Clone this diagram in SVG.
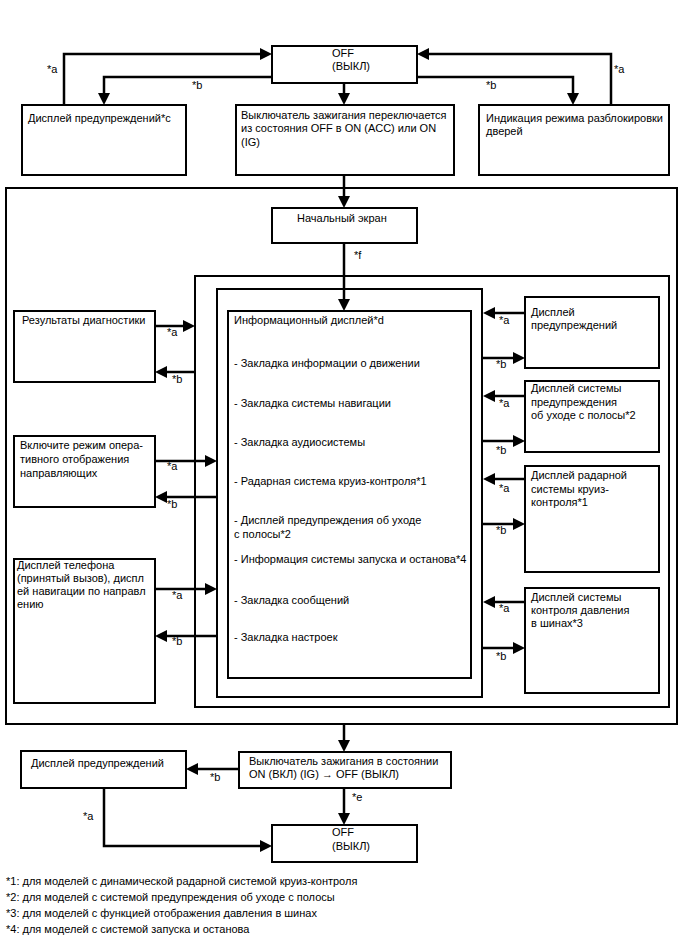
<svg xmlns="http://www.w3.org/2000/svg" width="688" height="949" viewBox="0 0 688 949">
<defs>
<style>
text{font-family:"Liberation Sans",Arial,sans-serif;font-size:11px;fill:#000}
.fn{font-size:11px}
.box{fill:#fff;stroke:#000;stroke-width:2}
.frame{fill:none;stroke:#000;stroke-width:2}
.c{fill:none;stroke:#000;stroke-width:2.5}
.ar{marker-end:url(#ah)}
</style>
<marker id="ah" markerUnits="userSpaceOnUse" markerWidth="12" markerHeight="12" refX="2" refY="6" orient="auto">
<path d="M0,0 L12,6 L0,12 z" fill="#000"/>
</marker>
</defs>
<rect width="688" height="949" fill="#fff"/>

<g id="frames">
<rect class="frame" x="6" y="188" width="671" height="536"/>
<rect class="frame" x="195" y="276" width="474" height="431"/>
<rect class="frame" x="217" y="289" width="265" height="408"/>
</g>

<g id="off-top">
<rect class="box" x="272" y="46" width="145" height="37"/>
<text x="332" y="57">OFF</text>
<text x="332" y="70">(ВЫКЛ)</text>
</g>
<g id="warn-top">
<rect class="box" x="22" y="105" width="164" height="70"/>
<text x="28" y="122">Дисплей предупреждений*с</text>
</g>
<g id="ign-top">
<rect class="box" x="236" y="105" width="218" height="70"/>
<text x="241" y="119">Выключатель зажигания переключается</text>
<text x="241" y="132">из состояния OFF в ON (ACC) или ON</text>
<text x="241" y="146">(IG)</text>
</g>
<g id="door-top">
<rect class="box" x="479" y="105" width="190" height="70"/>
<text x="486" y="122">Индикация режима разблокировки</text>
<text x="486" y="135">дверей</text>
</g>

<g id="start">
<rect class="box" x="272" y="208" width="145" height="35"/>
<text x="297" y="222">Начальный экран</text>
</g>

<g id="info">
<rect class="box" x="228" y="311" width="243" height="367"/>
<text x="234" y="324">Информационный дисплей*d</text>
<text x="234" y="367">- Закладка информации о движении</text>
<text x="234" y="407">- Закладка системы навигации</text>
<text x="234" y="446">- Закладка аудиосистемы</text>
<text x="234" y="485">- Радарная система круиз-контроля*1</text>
<text x="234" y="524">- Дисплей предупреждения об уходе</text>
<text x="234" y="538">с полосы*2</text>
<text x="234" y="563">- Информация системы запуска и останова*4</text>
<text x="234" y="604">- Закладка сообщений</text>
<text x="234" y="641">- Закладка настроек</text>
</g>

<g id="diag">
<rect class="box" x="14" y="311" width="141" height="71"/>
<text x="22" y="324">Результаты диагностики</text>
</g>
<g id="guide">
<rect class="box" x="14" y="436" width="141" height="71"/>
<text x="20" y="449">Включите режим опера-</text>
<text x="20" y="463">тивного отображения</text>
<text x="20" y="477">направляющих</text>
</g>
<g id="phone">
<rect class="box" x="14" y="559" width="141" height="144"/>
<text x="17" y="569">Дисплей телефона</text>
<text x="17" y="582">(принятый вызов), диспл</text>
<text x="17" y="595">ей навигации по направл</text>
<text x="17" y="608">ению</text>
</g>

<g id="warn-right">
<rect class="box" x="525" y="297" width="134" height="71"/>
<text x="531" y="316">Дисплей</text>
<text x="531" y="329">предупреждений</text>
</g>
<g id="lane">
<rect class="box" x="525" y="381" width="134" height="71"/>
<text x="531" y="392">Дисплей системы</text>
<text x="531" y="406">предупреждения</text>
<text x="531" y="419">об уходе с полосы*2</text>
</g>
<g id="radar">
<rect class="box" x="525" y="466" width="134" height="106"/>
<text x="531" y="479">Дисплей радарной</text>
<text x="531" y="493">системы круиз-</text>
<text x="531" y="506">контроля*1</text>
</g>
<g id="tire">
<rect class="box" x="525" y="588" width="134" height="105"/>
<text x="531" y="601">Дисплей системы</text>
<text x="531" y="614">контроля давления</text>
<text x="531" y="627">в шинах*3</text>
</g>

<g id="ign-bottom">
<rect class="box" x="239" y="752" width="212" height="36"/>
<text x="249" y="765">Выключатель зажигания в состоянии</text>
<text x="249" y="778">ON (ВКЛ) (IG) → OFF (ВЫКЛ)</text>
</g>
<g id="warn-bottom">
<rect class="box" x="21" y="751" width="165" height="37"/>
<text x="31" y="767">Дисплей предупреждений</text>
</g>
<g id="off-bottom">
<rect class="box" x="272" y="825" width="145" height="37"/>
<text x="332" y="836">OFF</text>
<text x="332" y="850">(ВЫКЛ)</text>
</g>

<g id="connectors">
<path class="c ar" d="M64,105 V54 H262"/>
<path class="c ar" d="M272,77 H104 V95"/>
<path class="c ar" d="M344,83 V95"/>
<path class="c ar" d="M417,77 H573 V95"/>
<path class="c ar" d="M611,105 V54 H427"/>
<path class="c ar" d="M344,175 V198"/>
<path class="c ar" d="M344,243 V301"/>
<path class="c ar" d="M155,326 H185"/>
<path class="c ar" d="M195,372 H165"/>
<path class="c ar" d="M155,461 H207"/>
<path class="c ar" d="M217,497 H165"/>
<path class="c ar" d="M155,589 H207"/>
<path class="c ar" d="M217,636 H165"/>
<path class="c ar" d="M525,313 H493"/>
<path class="c ar" d="M482,358 H515"/>
<path class="c ar" d="M525,396 H493"/>
<path class="c ar" d="M482,441 H515"/>
<path class="c ar" d="M525,479 H493"/>
<path class="c ar" d="M482,524 H515"/>
<path class="c ar" d="M525,602 H493"/>
<path class="c ar" d="M482,648 H515"/>
<path class="c ar" d="M344,724 V742"/>
<path class="c ar" d="M239,769 H196"/>
<path class="c ar" d="M344,788 V815"/>
<path class="c ar" d="M104,788 V846 H262"/>
</g>

<g id="labels">
<text x="47" y="73">*a</text>
<text x="192" y="89">*b</text>
<text x="486" y="89">*b</text>
<text x="614" y="73">*a</text>
<text x="354" y="259">*f</text>
<text x="167" y="336">*a</text>
<text x="172" y="383">*b</text>
<text x="167" y="470">*a</text>
<text x="167" y="508">*b</text>
<text x="172" y="599">*a</text>
<text x="172" y="645">*b</text>
<text x="499" y="324">*a</text>
<text x="496" y="368">*b</text>
<text x="499" y="407">*a</text>
<text x="496" y="454">*b</text>
<text x="499" y="492">*a</text>
<text x="496" y="534">*b</text>
<text x="499" y="612">*a</text>
<text x="496" y="660">*b</text>
<text x="210" y="781">*b</text>
<text x="352" y="801">*e</text>
<text x="83" y="820">*a</text>
</g>

<g id="footnotes">
<text class="fn" x="6" y="885">*1: для моделей с динамической радарной системой круиз-контроля</text>
<text class="fn" x="6" y="901">*2: для моделей с системой предупреждения об уходе с полосы</text>
<text class="fn" x="6" y="917">*3: для моделей с функцией отображения давления в шинах</text>
<text class="fn" x="6" y="933">*4: для моделей с системой запуска и останова</text>
</g>
</svg>
